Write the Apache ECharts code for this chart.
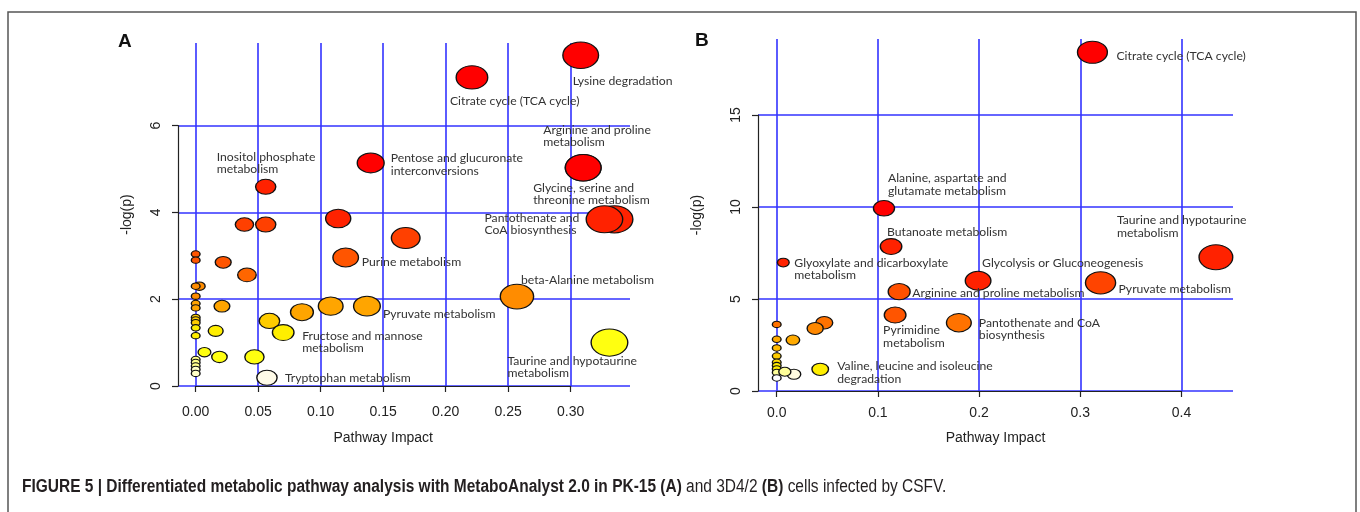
<!DOCTYPE html>
<html>
<head>
<meta charset="utf-8">
<script src="https://cdn.jsdelivr.net/npm/echarts@6/dist/echarts.min.js"></script>
<style>
  html, body { margin: 0; padding: 0; background: #fff; }
  #chart { width: 1360px; height: 512px; }
</style>
</head>
<body>
<div id="chart"></div>
<script>
// Panel A (PK-15): pathway impact vs -log(p)
const namesA = [
  'Lysine degradation', 'Citrate cycle (TCA cycle)', 'Pentose and glucuronate interconversions',
  'Arginine and proline metabolism', 'Glycine, serine and threonine metabolism', 'Inositol phosphate metabolism',
  '', 'Pantothenate and CoA biosynthesis', '', '', '', '', 'Purine metabolism', '', '',
  '', '', '', '', '', '', '', '', '', '', '', '', '', '', '', '', '', '', '', '', '', '',
  'Tryptophan metabolism', '', 'Fructose and mannose metabolism', '', '', 'Pyruvate metabolism',
  'beta-Alanine metabolism', 'Taurine and hypotaurine metabolism'
];
const impactA = [
  0.308, 0.221, 0.140, 0.310, 0.310, 0.056,
  0.335, 0.327, 0.114, 0.039, 0.056, 0.168, 0.120, 0.022, 0.041,
  0, 0, 0.003, 0, 0, 0, 0, 0.021, 0, 0, 0, 0, 0, 0.016, 0.007, 0.019, 0.047, 0, 0, 0, 0, 0,
  0.057, 0.059, 0.070, 0.085, 0.108, 0.137,
  0.257, 0.331
];
const logpA = [
  7.62, 7.11, 5.14, 5.03, 5.03, 4.59,
  3.84, 3.84, 3.86, 3.72, 3.72, 3.41, 2.96, 2.85, 2.56,
  3.04, 2.90, 2.30, 2.30, 2.07, 1.90, 1.80, 1.84, 1.58, 1.52, 1.46, 1.34, 1.16, 1.27, 0.78, 0.67, 0.67, 0.61, 0.54, 0.46, 0.38, 0.29,
  0.19, 1.50, 1.23, 1.70, 1.84, 1.84,
  2.06, 1.00
];

// Panel B (3D4/2)
const namesB = [
  'Citrate cycle (TCA cycle)', 'Alanine, aspartate and glutamate metabolism', 'Butanoate metabolism',
  'Glyoxylate and dicarboxylate metabolism', 'Glycolysis or Gluconeogenesis', 'Arginine and proline metabolism',
  'Pyrimidine metabolism', 'Pantothenate and CoA biosynthesis', 'Pyruvate metabolism',
  'Taurine and hypotaurine metabolism', '', '', '', 'Valine, leucine and isoleucine degradation',
  '', '', '', '', '', '', '', '', '', '', ''
];
const impactB = [
  0.312, 0.106, 0.113, 0.0065, 0.199, 0.121, 0.117, 0.180, 0.320, 0.434,
  0.047, 0.038, 0.016, 0.043,
  0, 0, 0, 0, 0, 0, 0, 0, 0.017, 0.008, 0
];
const logpB = [
  18.41, 9.93, 7.85, 6.98, 5.99, 5.40, 4.13, 3.71, 5.88, 7.27,
  3.71, 3.40, 2.77, 1.18,
  3.62, 2.81, 2.34, 1.90, 1.56, 1.38, 1.20, 1.01, 0.91, 1.05, 0.71
];

// tick labels
const xTicksA = ['0.00', '0.05', '0.10', '0.15', '0.20', '0.25', '0.30'];
const yTicksA = ['0', '2', '4', '6'];
const xTicksB = ['0.0', '0.1', '0.2', '0.3', '0.4'];
const yTicksB = ['0', '5', '10', '15'];

// label text (wrapped) and offset from bubble centre
const labelA = {
  'Lysine degradation': { t: 'Lysine degradation', o: [-8, 20] },
  'Citrate cycle (TCA cycle)': { t: 'Citrate cycle (TCA cycle)', o: [-22, 17] },
  'Pentose and glucuronate interconversions': { t: 'Pentose and glucuronate\ninterconversions', o: [20, -11] },
  'Arginine and proline metabolism': { t: 'Arginine and proline\nmetabolism', o: [-40, -44] },
  'Glycine, serine and threonine metabolism': { t: 'Glycine, serine and\nthreonine metabolism', o: [-50, 14] },
  'Inositol phosphate metabolism': { t: 'Inositol phosphate\nmetabolism', o: [-49, -36] },
  'Pantothenate and CoA biosynthesis': { t: 'Pantothenate and\nCoA biosynthesis', o: [-120, -8] },
  'Purine metabolism': { t: 'Purine metabolism', o: [16, -2] },
  'Tryptophan metabolism': { t: 'Tryptophan metabolism', o: [18, -6] },
  'Fructose and mannose metabolism': { t: 'Fructose and mannose\nmetabolism', o: [19, -3] },
  'Pyruvate metabolism': { t: 'Pyruvate metabolism', o: [16, 2] },
  'beta-Alanine metabolism': { t: 'beta-Alanine metabolism', o: [4, -23] },
  'Taurine and hypotaurine metabolism': { t: 'Taurine and hypotaurine\nmetabolism', o: [-102, 12] }
};
const labelB = {
  'Citrate cycle (TCA cycle)': { t: 'Citrate cycle (TCA cycle)', o: [24, -2] },
  'Alanine, aspartate and glutamate metabolism': { t: 'Alanine, aspartate and\nglutamate metabolism', o: [4, -36] },
  'Butanoate metabolism': { t: 'Butanoate metabolism', o: [-4, -21] },
  'Glyoxylate and dicarboxylate metabolism': { t: 'Glyoxylate and dicarboxylate\nmetabolism', o: [11, -6] },
  'Glycolysis or Gluconeogenesis': { t: 'Glycolysis or Gluconeogenesis', o: [4, -24] },
  'Arginine and proline metabolism': { t: 'Arginine and proline metabolism', o: [13, -5] },
  'Pyrimidine metabolism': { t: 'Pyrimidine\nmetabolism', o: [-12, 9] },
  'Pantothenate and CoA biosynthesis': { t: 'Pantothenate and CoA\nbiosynthesis', o: [20, -6] },
  'Pyruvate metabolism': { t: 'Pyruvate metabolism', o: [18, 0] },
  'Taurine and hypotaurine metabolism': { t: 'Taurine and hypotaurine\nmetabolism', o: [-99, -43] },
  'Valine, leucine and isoleucine degradation': { t: 'Valine, leucine and isoleucine\ndegradation', o: [17, -9] }
};

const BLUE = '#3333ff';
const AXIS = '#222';
const tickFont = { fontFamily: 'Liberation Sans, Arial, sans-serif', fontSize: 14, color: '#222' };
const capFont = 'Liberation Sans, Arial, sans-serif';

const buildData = (names, xs, ys, labels) =>
  xs.map((x, i) => {
    const item = { name: names[i], value: [x, ys[i]] };
    const lb = labels[names[i]];
    if (lb) {
      item.label = {
        show: true,
        position: 'inside',
        align: 'left',
        verticalAlign: 'top',
        offset: lb.o,
        formatter: lb.t
      };
    }
    return item;
  });

const bubbleSeries = (idx, names, xs, ys, labels, k) => ({
  type: 'scatter',
  xAxisIndex: idx,
  yAxisIndex: idx,
  symbol: 'circle',
  symbolSize: (v) => {
    const w = 8.7 + k * Math.sqrt(v[0]);
    return [w, w * 0.74];
  },
  itemStyle: { borderColor: '#111', borderWidth: 1.2, opacity: 1 },
  label: {
    show: false,
    color: '#333',
    fontFamily: 'Lato, "Noto Sans", sans-serif',
    fontSize: 12.2,
    lineHeight: 12.5,
    textBorderWidth: 0
  },
  emphasis: { disabled: true },
  data: buildData(names, xs, ys, labels)
});

// axis helpers
const hiddenAxis = (grid, min, max) => ({ type: 'value', gridIndex: grid, show: false, min, max });
const nameOnlyAxis = (grid, min, max, name, gap) => ({
  type: 'value', gridIndex: grid, min, max, name,
  nameLocation: 'middle', nameGap: gap,
  nameTextStyle: tickFont,
  axisLine: { show: false }, axisTick: { show: false },
  axisLabel: { show: false }, splitLine: { show: false }
});
const tickAxis = (grid, ticks, interval, extra) => Object.assign({
  type: 'value', gridIndex: grid,
  min: Number(ticks[0]), max: Number(ticks[ticks.length - 1]), interval,
  axisLine: { show: true, lineStyle: { color: AXIS, width: 1.2 } },
  axisTick: { show: true, length: 6, lineStyle: { color: AXIS, width: 1.2 } },
  axisLabel: Object.assign({ formatter: (v) => ticks.find((t) => Math.abs(Number(t) - v) < 1e-9) || '' }, tickFont),
  splitLine: { show: true, lineStyle: { color: BLUE, width: 1.6 } }
}, extra);

const chart = echarts.init(document.getElementById('chart'));

const option = {
  animation: false,
  backgroundColor: '#fff',
  title: [
    { text: 'A', left: 113, top: 27, textStyle: { fontFamily: capFont, fontWeight: 'bold', fontSize: 19, color: '#111' } },
    { text: 'B', left: 690, top: 26, textStyle: { fontFamily: capFont, fontWeight: 'bold', fontSize: 19, color: '#111' } }
  ],
  graphic: [
    { type: 'rect', shape: { x: 8, y: 12, width: 1348, height: 540 }, style: { fill: 'none', stroke: '#555', lineWidth: 1.5 }, silent: true },
    {
      // figure caption, condensed like the journal typeface
      type: 'text', x: 22, y: 487, scaleX: 0.86, silent: true,
      style: {
        text: '{b|FIGURE 5 | Differentiated metabolic pathway analysis with MetaboAnalyst 2.0 in PK-15 (A)}{n| and 3D4/2 }{b|(B)}{n| cells infected by CSFV.}',
        verticalAlign: 'middle',
        rich: {
          b: { fontFamily: capFont, fontWeight: 'bold', fontSize: 18, fill: '#231f20' },
          n: { fontFamily: capFont, fontWeight: 'normal', fontSize: 18, fill: '#231f20' }
        }
      }
    }
  ],
  grid: [
    { left: 178, top: 43, width: 452, height: 343 },     // A bubbles
    { left: 195.7, top: 43, width: 375, height: 343 },   // A x axis
    { left: 178, top: 125.5, width: 452, height: 260.5 },// A y axis
    { left: 758, top: 39, width: 475, height: 352 },     // B bubbles
    { left: 776.7, top: 39, width: 404.8, height: 352 }, // B x axis
    { left: 758, top: 115, width: 475, height: 276 }     // B y axis
  ],
  xAxis: [
    hiddenAxis(0, -0.01416, 0.34744),
    tickAxis(1, xTicksA, 0.05, { offset: 5, name: 'Pathway Impact', nameLocation: 'middle', nameGap: 40, nameTextStyle: tickFont,
      axisLabel: Object.assign({ margin: 14, formatter: (v) => v.toFixed(2) }, tickFont) }),
    hiddenAxis(2),
    nameOnlyAxis(3, -0.0185, 0.4509, 'Pathway Impact', 40),
    tickAxis(4, xTicksB, 0.1, { axisLabel: Object.assign({ margin: 15, formatter: (v) => v.toFixed(1) }, tickFont) }),
    hiddenAxis(5)
  ],
  yAxis: [
    nameOnlyAxis(0, 0, 7.903, '-log(p)', 44),
    hiddenAxis(1),
    tickAxis(2, yTicksA, 2, { axisLabel: Object.assign({ rotate: 90, margin: 15 }, tickFont) }),
    nameOnlyAxis(3, 0, 19.13, '-log(p)', 54),
    hiddenAxis(4),
    tickAxis(5, yTicksB, 5, { axisLabel: Object.assign({ rotate: 90, margin: 15 }, tickFont) })
  ],
  visualMap: [
    {
      type: 'piecewise', show: false, seriesIndex: 0, dimension: 1,
      pieces: [
        { lt: 0.25, color: '#fffbe8' },
        { gte: 0.25, lt: 0.45, color: '#ffffc8' },
        { gte: 0.45, lt: 0.64, color: '#ffff8c' },
        { gte: 0.64, lt: 1.1, color: '#ffff10' },
        { gte: 1.1, lt: 1.4, color: '#ffee00' },
        { gte: 1.4, lt: 1.65, color: '#ffcc00' },
        { gte: 1.65, lt: 2.0, color: '#ffa500' },
        { gte: 2.0, lt: 2.4, color: '#ff8c00' },
        { gte: 2.4, lt: 2.75, color: '#ff6600' },
        { gte: 2.75, lt: 3.2, color: '#ff5500' },
        { gte: 3.2, lt: 3.8, color: '#ff4000' },
        { gte: 3.8, lt: 4.8, color: '#ff2200' },
        { gte: 4.8, color: '#ff0000' }
      ]
    },
    {
      type: 'piecewise', show: false, seriesIndex: 1, dimension: 1,
      pieces: [
        { lt: 0.8, color: '#ffffff' },
        { gte: 0.8, lt: 1.0, color: '#fffbe0' },
        { gte: 1.0, lt: 1.12, color: '#ffff99' },
        { gte: 1.12, lt: 1.45, color: '#ffee00' },
        { gte: 1.45, lt: 1.7, color: '#ffdd00' },
        { gte: 1.7, lt: 2.1, color: '#ffcc00' },
        { gte: 2.1, lt: 2.6, color: '#ffbb00' },
        { gte: 2.6, lt: 3.0, color: '#ffaa00' },
        { gte: 3.0, lt: 3.5, color: '#ff8800' },
        { gte: 3.5, lt: 3.8, color: '#ff7200' },
        { gte: 3.8, lt: 5.0, color: '#ff5500' },
        { gte: 5.0, lt: 5.6, color: '#ff5000' },
        { gte: 5.6, lt: 5.95, color: '#ff4400' },
        { gte: 5.95, lt: 9, color: '#ff2200' },
        { gte: 9, color: '#ff0000' }
      ]
    }
  ],
  series: [
    bubbleSeries(0, namesA, impactA, logpA, labelA, 48.6),
    bubbleSeries(3, namesB, impactB, logpB, labelB, 37.9)
  ]
};

chart.setOption(option);
window.addEventListener('resize', () => chart.resize());
</script>
</body>
</html>
